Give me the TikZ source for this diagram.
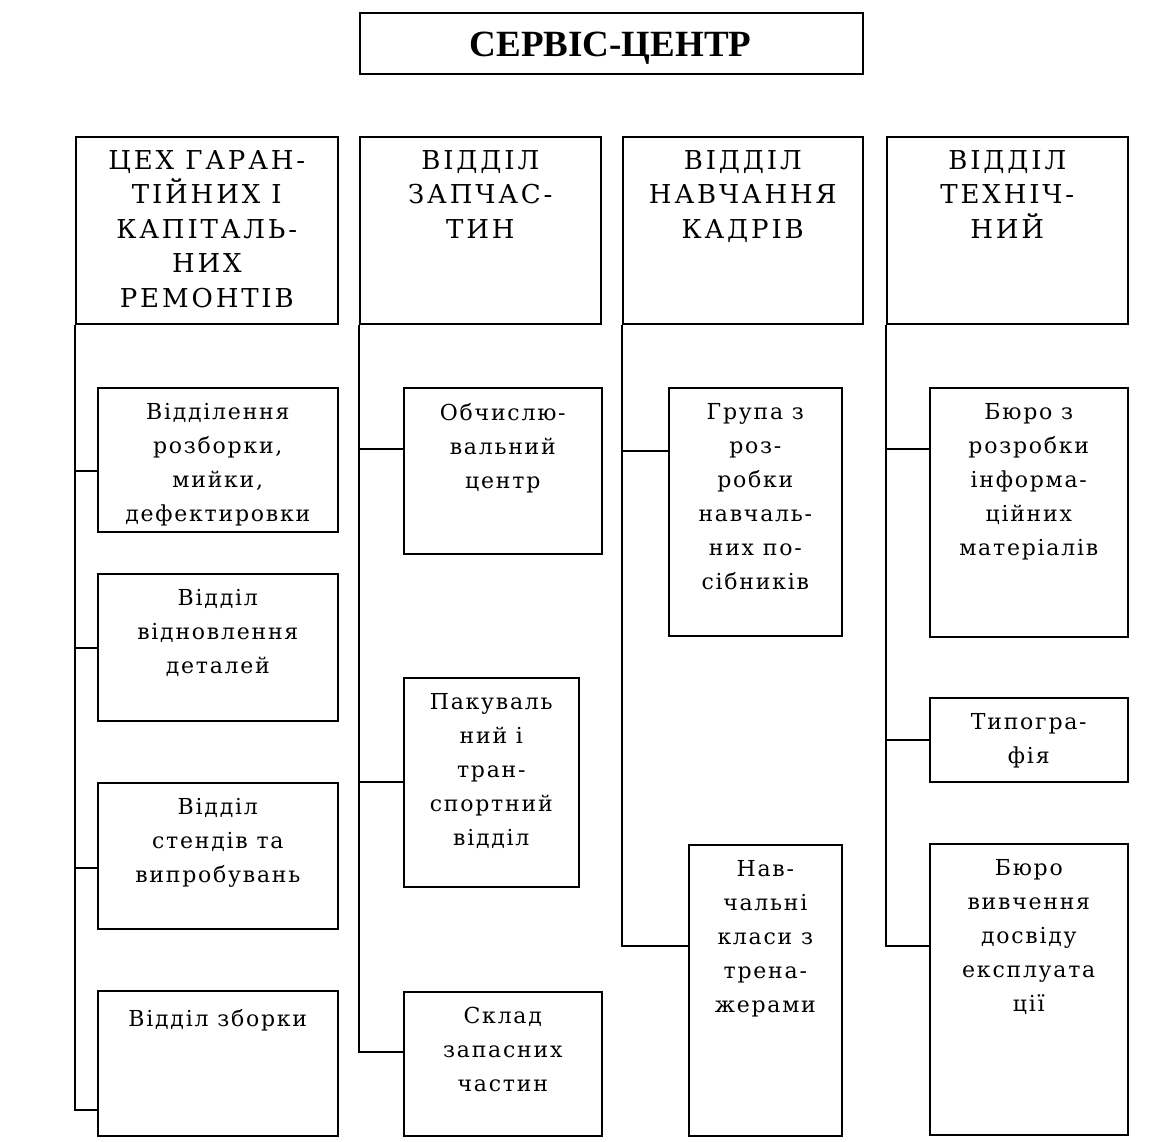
\documentclass[tikz,border=0pt]{standalone}
\usepackage{fontspec}
\setmainfont{DejaVu Serif}
\newfontfamily\subfont[LetterSpace=8]{DejaVu Serif}
\newfontfamily\headfont[LetterSpace=11]{DejaVu Serif}
\newfontfamily\titlefont{Liberation Serif}
\begin{document}
\begin{tikzpicture}[x=1pt,y=-1pt,
  box/.style={draw, line width=1.6pt, rectangle, inner sep=0pt, anchor=north west},
  subtext/.style={anchor=north, inner sep=0pt, align=center,
     font=\subfont\fontsize{22}{34}\selectfont,
     execute at begin node={\rule{0pt}{20pt}}},
  headtext/.style={anchor=north, inner sep=0pt, align=center,
     font=\headfont\fontsize{26}{34.5}\selectfont,
     execute at begin node={\rule{0pt}{26pt}}},
  link/.style={line width=1.6pt}]
\useasboundingbox (0,0) rectangle (1159,1142);
\newcommand\mkbox[5]{%
  \node[box, minimum width={#4-#2}, minimum height={#5-#3}] (#1) at (#2,#3) {};}
% top box
\mkbox{top}{359}{12}{862}{73}
\node[anchor=base, inner sep=0pt, font=\titlefont\bfseries\fontsize{37}{40}\selectfont] (toptext) at (610.5,57) {СЕРВІС-ЦЕНТР};
% departments
\mkbox{d1}{75}{136}{337}{323}
\mkbox{d2}{359}{136}{600}{323}
\mkbox{d3}{622}{136}{862}{323}
\mkbox{d4}{886}{136}{1127}{323}
\node[headtext] (d1t) at ([yshift=-14pt]d1.north) {ЦЕХ ГАРАН-\\ТІЙНИХ І\\КАПІТАЛЬ-\\НИХ\\РЕМОНТІВ};
\node[headtext] (d2t) at ([yshift=-14pt]d2.north) {ВІДДІЛ\\ЗАПЧАС-\\ТИН};
\node[headtext] (d3t) at ([yshift=-14pt]d3.north) {ВІДДІЛ\\НАВЧАННЯ\\КАДРІВ};
\node[headtext] (d4t) at ([yshift=-14pt]d4.north) {ВІДДІЛ\\ТЕХНІЧ-\\НИЙ};
% column 1
\mkbox{a1}{97}{387}{337}{531}
\mkbox{a2}{97}{573}{337}{720}
\mkbox{a3}{97}{782}{337}{928}
\mkbox{a4}{97}{990}{337}{1135}
\node[subtext] (a1t) at ([yshift=-16pt]a1.north) {Відділення\\розборки,\\мийки,\\дефектировки};
\node[subtext] (a2t) at ([yshift=-16pt]a2.north) {Відділ\\відновлення\\деталей};
\node[subtext] (a3t) at ([yshift=-16pt]a3.north) {Відділ\\стендів та\\випробувань};
\node[subtext] (a4t) at ([yshift=-16pt]a4.north) {Відділ зборки};
% column 2
\mkbox{b1}{403}{387}{601}{553}
\mkbox{b2}{403}{677}{578}{886}
\mkbox{b3}{403}{991}{601}{1135}
\node[subtext] (b1t) at ([yshift=-16pt]b1.north) {Обчислю-\\вальний\\центр};
\node[subtext] (b2t) at ([yshift=-16pt]b2.north) {Пакуваль\\ний і\\тран-\\спортний\\відділ};
\node[subtext] (b3t) at ([yshift=-16pt]b3.north) {Склад\\запасних\\частин};
% column 3
\mkbox{c1}{668}{387}{841}{635}
\mkbox{c2}{688}{844}{841}{1135}
\node[subtext] (c1t) at ([yshift=-16pt]c1.north) {Група з\\роз-\\робки\\навчаль-\\них по-\\сібників};
\node[subtext] (c2t) at ([yshift=-16pt]c2.north) {Нав-\\чальні\\класи з\\трена-\\жерами};
% column 4
\mkbox{e1}{929}{387}{1127}{636}
\mkbox{e2}{929}{697}{1127}{781}
\mkbox{e3}{929}{843}{1127}{1134}
\node[subtext] (e1t) at ([yshift=-16pt]e1.north) {Бюро з\\розробки\\інформа-\\ційних\\матеріалів};
\node[subtext] (e2t) at ([yshift=-16pt]e2.north) {Типогра-\\фія};
\node[subtext] (e3t) at ([yshift=-16pt]e3.north) {Бюро\\вивчення\\досвіду\\експлуата\\ції};
% junction coordinates
\coordinate (ja1) at (75,471);
\coordinate (ja2) at (75,648);
\coordinate (ja3) at (75,868);
\coordinate (ja4) at (75,1110);
\coordinate (jb1) at (359,449);
\coordinate (jb2) at (359,782);
\coordinate (jb3) at (359,1052);
\coordinate (jc1) at (622,451);
\coordinate (jc2) at (622,946);
\coordinate (je1) at (886,449);
\coordinate (je2) at (886,740);
\coordinate (je3) at (886,946);
% trunks
\draw[link] (d1.south west) -- (ja4) -- (ja4 -| a4.west);
\draw[link] (d2.south west) -- (jb3) -- (jb3 -| b3.west);
\draw[link] (d3.south west) -- (jc2) -- (jc2 -| c2.west);
\draw[link] (d4.south west) -- (je3) -- (je3 -| e3.west);
% branches
\draw[link] (ja1) -- (ja1 -| a1.west);
\draw[link] (ja2) -- (ja2 -| a2.west);
\draw[link] (ja3) -- (ja3 -| a3.west);
\draw[link] (jb1) -- (jb1 -| b1.west);
\draw[link] (jb2) -- (jb2 -| b2.west);
\draw[link] (jc1) -- (jc1 -| c1.west);
\draw[link] (je1) -- (je1 -| e1.west);
\draw[link] (je2) -- (je2 -| e2.west);
\end{tikzpicture}
\end{document}
